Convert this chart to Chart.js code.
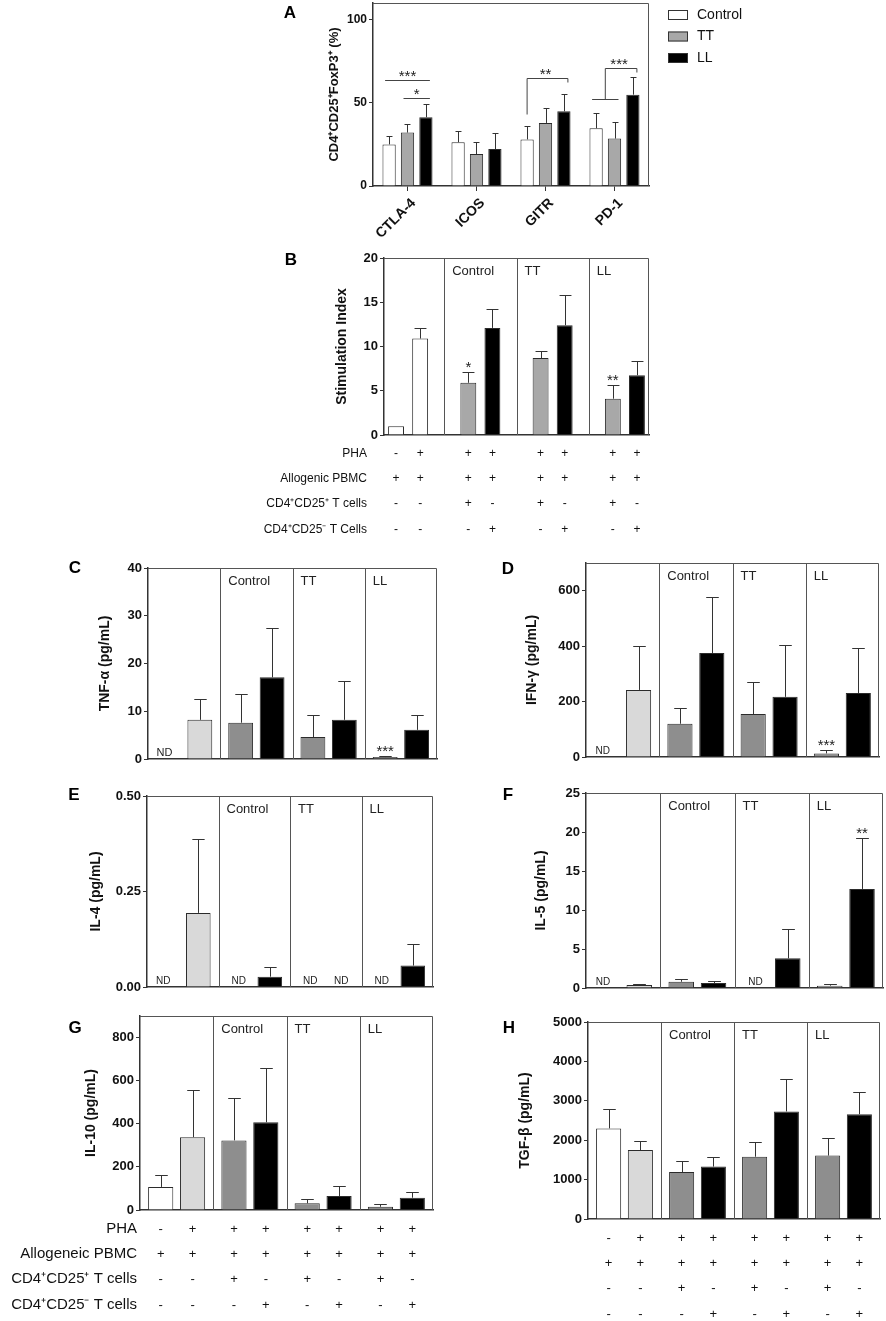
<!DOCTYPE html>
<html>
<head>
<meta charset="utf-8">
<title>Treg markers, suppression and cytokines</title>
<script src="https://cdn.jsdelivr.net/npm/chart.js@4.4.1/dist/chart.umd.min.js"></script>
<style>
  html, body { margin: 0; padding: 0; background: #fff; }
  #fig { position: relative; width: 886px; height: 1321px; overflow: hidden; }
  #fig canvas { position: absolute; left: 0; top: 0; }
</style>
</head>
<body>
<div id="fig"></div>
<script>
// ---------- data ----------
// A: markers on CD4+CD25+FoxP3+ cells
const markerNames = ['CTLA-4', 'ICOS', 'GITR', 'PD-1'];
const genotypeNames = ['Control', 'TT', 'LL'];
const markerTicks = [0, 50, 100];
const markerControl = [25, 26.3, 28, 34.7];
const markerControlErr = [5, 6.7, 8.3, 9.2];
const markerTT = [32.1, 19.2, 37.9, 28.5];
const markerTTErr = [5.2, 7.3, 9, 9.8];
const markerLL = [41.3, 22.2, 44.9, 54.9];
const markerLLErr = [7.8, 9.9, 10.2, 10.4];
// significance brackets (group = marker, from/to = genotype index, y in %)
const markerBrackets = [
  { group: 0, from: 0, to: 2, y: 63.5, label: '***' },
  { group: 0, from: 1, to: 2, y: 53, label: '*' },
  { group: 2, from: 0, to: 2, y: 65, foot: 43.5, label: '**' },
  { group: 3, from: [0, 1], to: 2, y: 71, foot: 52, label: '***' }
];

// B-H: four groups of two bars: PBMC alone (-PHA / +PHA), then Treg of each genotype (CD25+ / CD25-)
const groupNames = ['PBMC', 'Control', 'TT', 'LL'];

const siTicks = [0, 5, 10, 15, 20];
const siFirst = [1, 5.9, 8.7, 4.1];
const siFirstErr = [0, 1.2, 0.8, 1.55];
const siFirstSig = ['', '*', '', '**'];
const siSecond = [10.9, 12.1, 12.4, 6.75];
const siSecondErr = [1.15, 2.1, 3.4, 1.65];

// null = not detected (ND)
const tnfTicks = [0, 10, 20, 30, 40];
const tnfFirst = [null, 7.6, 4.6, 0.4];
const tnfFirstErr = [null, 6.1, 4.6, 0.15];
const tnfFirstSig = ['', '', '', '***'];
const tnfSecond = [8.2, 17.1, 8.2, 6.1];
const tnfSecondErr = [4.3, 10.3, 8.1, 3.1];

const ifnTicks = [0, 200, 400, 600];
const ifnFirst = [null, 120, 155, 13];
const ifnFirstErr = [null, 57, 115, 14];
const ifnFirstSig = ['', '', '', '***'];
const ifnSecond = [242, 375, 217, 231];
const ifnSecondErr = [159, 203, 187, 163];

const il4Ticks = [0, 0.25, 0.5];
const il4First = [null, null, null, null];
const il4FirstErr = [null, null, null, null];
const il4Second = [0.194, 0.027, null, 0.056];
const il4SecondErr = [0.193, 0.026, null, 0.057];

const il5Ticks = [0, 5, 10, 15, 20, 25];
const il5First = [null, 0.8, null, 0.3];
const il5FirstErr = [null, 0.35, null, 0.2];
const il5Second = [0.38, 0.64, 3.8, 12.7];
const il5SecondErr = [0.14, 0.26, 3.75, 6.5];
const il5SecondSig = ['', '', '', '**'];

const il10Ticks = [0, 200, 400, 600, 800];
const il10First = [107, 323, 31, 15];
const il10FirstErr = [55, 195, 18, 11];
const il10Second = [338, 407, 65, 57];
const il10SecondErr = [220, 251, 46, 27];

const tgfTicks = [0, 1000, 2000, 3000, 4000, 5000];
const tgfFirst = [2300, 1190, 1580, 1610];
const tgfFirstErr = [490, 285, 380, 440];
const tgfSecond = [1750, 1330, 2730, 2660];
const tgfSecondErr = [240, 255, 820, 570];

// culture conditions under the bars
const conditionRows = ['PHA', 'Allogeneic PBMC', 'CD4\u207ACD25\u207A T cells', 'CD4\u207ACD25\u207B T cells'];
const conditionRowsB = ['PHA', 'Allogenic PBMC', 'CD4\u207ACD25\u207A T cells', 'CD4\u207ACD25\u207B T Cells'];
const conditionSigns = [
  ['-', '+', '+', '+', '+', '+', '+', '+'],
  ['+', '+', '+', '+', '+', '+', '+', '+'],
  ['-', '-', '+', '-', '+', '-', '+', '-'],
  ['-', '-', '-', '+', '-', '+', '-', '+']
];

// ---------- drawing ----------
const FONT = '"Liberation Sans", Arial, Helvetica, sans-serif';
Chart.defaults.font.family = FONT;
Chart.defaults.color = '#111';
const W = 886, H = 1321;
const WHITE = '#ffffff', LIGHT = '#d9d9d9', MID = '#8e8e8e', GREY = '#a8a8a8', BLACK = '#000000', EDGE = '#2b2b2b';
const rowOffsets = [19, 44, 69, 95];

function withGaps(first, second) {
  const out = [];
  first.forEach((v, g) => {
    out.push(v, second[g]);
    if (g < first.length - 1) out.push(null);
  });
  return out;
}

function pairSets(first, firstErr, second, secondErr, firstSig, secondSig) {
  return [
    { label: 'CD25+ / -PHA', data: first, err: firstErr, sig: firstSig, backgroundColor: [WHITE, MID, MID, MID] },
    { label: 'CD25- / +PHA', data: second, err: secondErr, sig: secondSig, backgroundColor: [LIGHT, BLACK, BLACK, BLACK] }
  ];
}

function makePanel(p) {
  const canvas = document.createElement('canvas');
  canvas.width = W;
  canvas.height = H;
  document.getElementById('fig').appendChild(canvas);

  const titleSize = p.titleSize || 14;
  const yW = p.box.l - (p.titleX - (titleSize * 0.6 + 4));
  const xH = p.xHeight || 0;
  const capRatio = p.cap || 0.5;

  const decor = {
    id: 'decor',
    beforeDatasetsDraw(chart) {
      const { ctx, chartArea: a, scales: { x } } = chart;
      ctx.save();
      ctx.strokeStyle = '#555';
      ctx.lineWidth = 1;
      ctx.beginPath();
      ctx.moveTo(a.left, a.top + 0.5);
      ctx.lineTo(a.right - 0.5, a.top + 0.5);
      ctx.lineTo(a.right - 0.5, a.bottom);
      (p.dividers || []).forEach(v => {
        const px = Math.round(x.getPixelForValue(v)) + 0.5;
        ctx.moveTo(px, a.top);
        ctx.lineTo(px, a.bottom);
      });
      ctx.stroke();
      ctx.fillStyle = '#222';
      ctx.font = '13px ' + FONT;
      ctx.textAlign = 'left';
      ctx.textBaseline = 'middle';
      (p.dividers || []).forEach((v, i) => {
        ctx.fillText(genotypeNames[i], x.getPixelForValue(v) + 8, a.top + 13);
      });
      ctx.restore();
    },
    afterDatasetsDraw(chart) {
      const { ctx, chartArea: a, scales: { y } } = chart;
      ctx.save();
      chart.data.datasets.forEach((ds, di) => {
        chart.getDatasetMeta(di).data.forEach((bar, i) => {
          const v = ds.data[i];
          if (v === null) {
            if (p.nd) {
              ctx.fillStyle = '#222';
              ctx.font = (p.ndSize || 10) + 'px ' + FONT;
              ctx.textAlign = 'center';
              ctx.textBaseline = 'alphabetic';
              ctx.fillText('ND', bar.x - (i === 0 ? 4 : 0), a.bottom - 3);
            }
            return;
          }
          const e = ds.err ? ds.err[i] || 0 : 0;
          const top = Math.round(y.getPixelForValue(v + e)) + 0.5;
          if (e > 0) {
            const cx = Math.round(bar.x) + 0.5;
            const cap = bar.width * capRatio / 2;
            ctx.strokeStyle = '#333';
            ctx.lineWidth = 1;
            ctx.beginPath();
            ctx.moveTo(cx, bar.y);
            ctx.lineTo(cx, top);
            ctx.moveTo(cx - cap, top);
            ctx.lineTo(cx + cap, top);
            ctx.stroke();
          }
          if (ds.sig && ds.sig[i]) {
            ctx.fillStyle = '#222';
            ctx.font = '15px ' + FONT;
            ctx.textAlign = 'center';
            ctx.textBaseline = 'alphabetic';
            ctx.fillText(ds.sig[i], bar.x, top - 1);
          }
        });
      });
      ctx.restore();
    },
    afterDraw(chart) {
      const { ctx, chartArea: a, scales: { y } } = chart;
      ctx.save();
      ctx.fillStyle = '#000';
      ctx.font = 'bold 17px ' + FONT;
      ctx.textAlign = 'center';
      ctx.textBaseline = 'middle';
      ctx.fillText(p.letter, p.letterAt[0], p.letterAt[1]);

      if (p.legend) {
        chart.data.datasets.forEach((ds, i) => {
          const lx = a.right + 19, ly = a.top + 12 + i * 21.5;
          ctx.fillStyle = ds.backgroundColor;
          ctx.fillRect(lx, ly - 5, 20, 10);
          ctx.strokeStyle = '#333';
          ctx.lineWidth = 1;
          ctx.strokeRect(lx + 0.5, ly - 4.5, 19, 9);
          ctx.fillStyle = '#111';
          ctx.font = '14px ' + FONT;
          ctx.textAlign = 'left';
          ctx.fillText(ds.label, lx + 29, ly);
        });
      }

      (p.brackets || []).forEach(b => {
        const bx = d => chart.getDatasetMeta(d).data[b.group].x;
        const py = v => Math.round(y.getPixelForValue(v)) + 0.5;
        ctx.strokeStyle = '#444';
        ctx.lineWidth = 1;
        ctx.beginPath();
        let x0;
        if (Array.isArray(b.from)) {
          const xa = bx(b.from[0]), xb = bx(b.from[1]);
          ctx.moveTo(xa - 4, py(b.foot));
          ctx.lineTo(xb + 4, py(b.foot));
          x0 = (xa + xb) / 2;
        } else {
          x0 = bx(b.from);
        }
        const x1 = bx(b.to);
        if (b.foot !== undefined) {
          ctx.moveTo(x0, py(b.foot));
          ctx.lineTo(x0, py(b.y));
          ctx.lineTo(x1 + 4, py(b.y));
          ctx.lineTo(x1 + 4, py(b.y) + 4);
        } else {
          ctx.moveTo(x0 - 4, py(b.y));
          ctx.lineTo(x1 + 4, py(b.y));
        }
        ctx.stroke();
        ctx.fillStyle = '#222';
        ctx.font = '15px ' + FONT;
        ctx.textAlign = 'center';
        ctx.textBaseline = 'alphabetic';
        ctx.fillText(b.label, (x0 + x1) / 2, py(b.y));
      });

      if (p.table) {
        const cols = [];
        chart.data.datasets.forEach((ds, di) => {
          chart.getDatasetMeta(di).data.forEach((bar, i) => {
            if (ds.data[i] !== null) cols.push(bar.x);
          });
        });
        cols.sort((m, n) => m - n);
        ctx.fillStyle = '#111';
        ctx.textBaseline = 'middle';
        conditionSigns.forEach((row, r) => {
          const yy = a.bottom + rowOffsets[r];
          ctx.font = p.table.signSize + 'px ' + FONT;
          ctx.textAlign = 'center';
          row.forEach((s, c) => ctx.fillText(s, cols[c], yy));
          if (p.table.rows) {
            ctx.font = p.table.labelSize + 'px ' + FONT;
            ctx.textAlign = 'right';
            ctx.fillText(p.table.rows[r], p.table.labelRight, yy);
          }
        });
      }
      ctx.restore();
    }
  };

  const xScale = p.xLabels ? {
    grid: { display: true, drawOnChartArea: false, drawTicks: true, tickLength: 5, offset: false, color: '#333' },
    border: { display: true, color: '#333', width: 1.5 },
    ticks: { font: { size: 14, weight: 'bold' }, color: '#111', minRotation: 45, maxRotation: 45, padding: 4, labelOffset: 6, autoSkip: false },
    afterFit: s => { s.height = xH; s.paddingLeft = 0; s.paddingRight = 0; }
  } : {
    grid: { display: false },
    border: { display: true, color: '#333', width: 1.5 },
    ticks: { display: false },
    afterFit: s => { s.height = 0; s.paddingLeft = 0; s.paddingRight = 0; }
  };

  return new Chart(canvas, {
    type: 'bar',
    data: {
      labels: p.labels,
      datasets: p.datasets.map(d => Object.assign({
        borderColor: EDGE, borderWidth: 1,
        categoryPercentage: p.cp || 0.87, barPercentage: p.bp || 0.79
      }, d))
    },
    options: {
      responsive: false,
      animation: false,
      events: [],
      layout: { padding: { left: p.box.l - yW, top: p.box.t, right: W - p.box.r, bottom: H - p.box.b - xH } },
      plugins: { legend: { display: false }, tooltip: { enabled: false } },
      scales: {
        x: xScale,
        y: {
          min: 0,
          max: p.yMax,
          afterBuildTicks: s => { s.ticks = p.yTicks.map(v => ({ value: v })); },
          afterFit: s => { s.width = yW; s.paddingTop = 0; s.paddingBottom = 0; },
          grid: { display: true, drawOnChartArea: false, drawTicks: true, tickLength: 4, color: '#333' },
          border: { display: true, color: '#333', width: 1.5 },
          ticks: {
            font: { size: p.tickSize || 13, weight: 'bold' }, color: '#111', padding: 2, autoSkip: false,
            callback: v => p.fmt ? Number(v).toFixed(p.fmt) : String(v)
          },
          title: { display: true, text: p.yTitle, color: '#111', font: { size: titleSize, weight: 'bold' }, padding: { top: 4, bottom: 4 } }
        }
      }
    },
    plugins: [decor]
  });
}

const cytoLabels = groupNames;

makePanel({
  letter: 'A', letterAt: [290, 13],
  box: { l: 373, t: 3, r: 649, b: 186 },
  yMax: 110, yTicks: markerTicks, titleX: 334, titleSize: 13, tickSize: 12,
  yTitle: 'CD4\u207ACD25\u207AFoxP3\u207A (%)',
  labels: markerNames, xLabels: true, xHeight: 55,
  cp: 0.8, bp: 0.72, cap: 0.45,
  datasets: [
    { label: genotypeNames[0], data: markerControl, err: markerControlErr, backgroundColor: WHITE },
    { label: genotypeNames[1], data: markerTT, err: markerTTErr, backgroundColor: GREY },
    { label: genotypeNames[2], data: markerLL, err: markerLLErr, backgroundColor: BLACK }
  ],
  legend: true, brackets: markerBrackets
});

makePanel({
  letter: 'B', letterAt: [291, 260],
  box: { l: 384, t: 258, r: 649, b: 435 },
  yMax: 20, yTicks: siTicks, titleX: 342, yTitle: 'Stimulation Index',
  labels: withGaps(groupNames.map(g => g + ' 1'), groupNames.map(g => g + ' 2')).map(v => v || ''),
  cp: 1, bp: 0.66, cap: 0.75,
  datasets: [{
    label: 'Stimulation index',
    data: withGaps(siFirst, siSecond),
    err: withGaps(siFirstErr, siSecondErr),
    sig: withGaps(siFirstSig, ['', '', '', '']),
    backgroundColor: withGaps([WHITE, GREY, GREY, GREY], [WHITE, BLACK, BLACK, BLACK])
  }],
  dividers: [2, 5, 8],
  table: { rows: conditionRowsB, labelRight: 367, labelSize: 12, signSize: 12 }
});

makePanel({
  letter: 'C', letterAt: [75, 568],
  box: { l: 148, t: 568, r: 437, b: 759 },
  yMax: 40, yTicks: tnfTicks, titleX: 105, yTitle: 'TNF-\u03B1 (pg/mL)',
  labels: cytoLabels, nd: true, ndSize: 11,
  datasets: pairSets(tnfFirst, tnfFirstErr, tnfSecond, tnfSecondErr, tnfFirstSig),
  dividers: [0.5, 1.5, 2.5]
});

makePanel({
  letter: 'D', letterAt: [508, 569],
  box: { l: 586, t: 563, r: 879, b: 757 },
  yMax: 700, yTicks: ifnTicks, titleX: 532, yTitle: 'IFN-\u03B3 (pg/mL)',
  labels: cytoLabels, nd: true,
  datasets: pairSets(ifnFirst, ifnFirstErr, ifnSecond, ifnSecondErr, ifnFirstSig),
  dividers: [0.5, 1.5, 2.5]
});

makePanel({
  letter: 'E', letterAt: [74, 795],
  box: { l: 147, t: 796, r: 433, b: 987 },
  yMax: 0.5, yTicks: il4Ticks, fmt: 2, titleX: 96, yTitle: 'IL-4 (pg/mL)',
  labels: cytoLabels, nd: true,
  datasets: pairSets(il4First, il4FirstErr, il4Second, il4SecondErr),
  dividers: [0.5, 1.5, 2.5]
});

makePanel({
  letter: 'F', letterAt: [508, 795],
  box: { l: 586, t: 793, r: 883, b: 988 },
  yMax: 25, yTicks: il5Ticks, titleX: 541, yTitle: 'IL-5 (pg/mL)',
  labels: cytoLabels, nd: true,
  datasets: pairSets(il5First, il5FirstErr, il5Second, il5SecondErr, null, il5SecondSig),
  dividers: [0.5, 1.5, 2.5]
});

makePanel({
  letter: 'G', letterAt: [75, 1028],
  box: { l: 140, t: 1016, r: 433, b: 1210 },
  yMax: 900, yTicks: il10Ticks, titleX: 91, yTitle: 'IL-10 (pg/mL)',
  labels: cytoLabels,
  datasets: pairSets(il10First, il10FirstErr, il10Second, il10SecondErr),
  dividers: [0.5, 1.5, 2.5],
  table: { rows: conditionRows, labelRight: 137, labelSize: 15, signSize: 13 }
});

makePanel({
  letter: 'H', letterAt: [509, 1028],
  box: { l: 588, t: 1022, r: 880, b: 1219 },
  yMax: 5000, yTicks: tgfTicks, titleX: 525, yTitle: 'TGF-\u03B2 (pg/mL)',
  labels: cytoLabels,
  datasets: pairSets(tgfFirst, tgfFirstErr, tgfSecond, tgfSecondErr),
  dividers: [0.5, 1.5, 2.5],
  table: { signSize: 13 }
});
</script>
</body>
</html>
